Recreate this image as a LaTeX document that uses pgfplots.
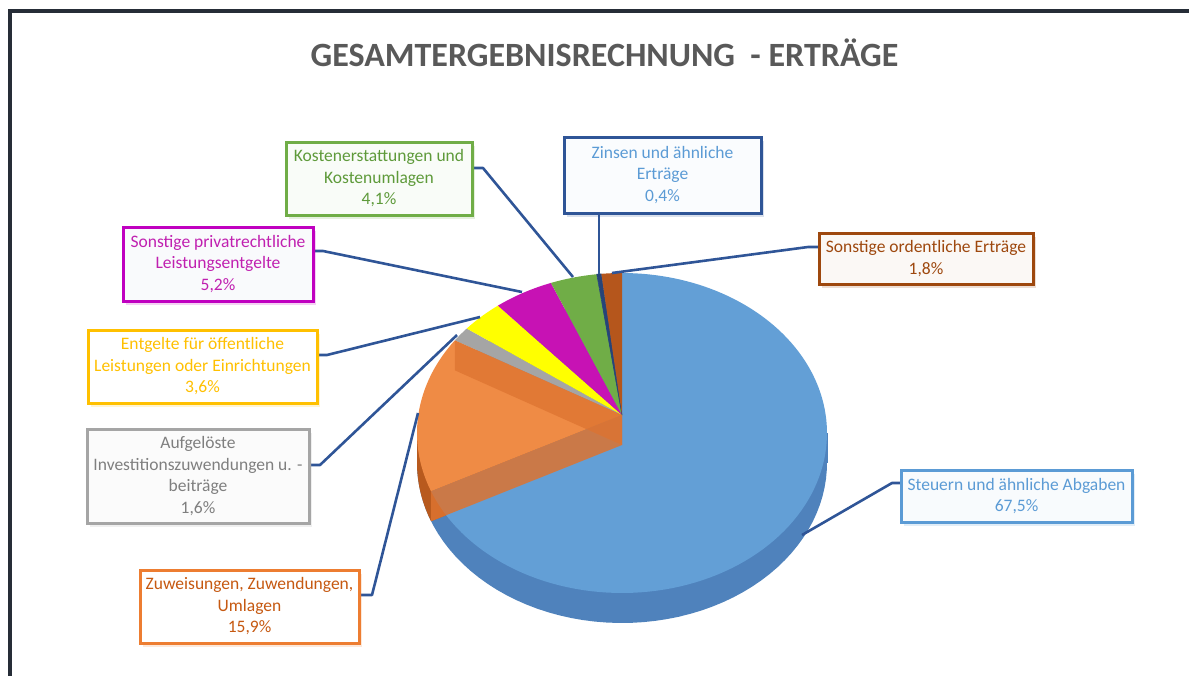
\documentclass[border=0pt]{standalone}
\usepackage{fontspec}
\setmainfont{Carlito}
\usepackage{pgfplots}
\pgfplotsset{compat=1.18}
\usetikzlibrary{shadows}
\definecolor{cblue}{HTML}{639FD6}
\definecolor{cblueside}{HTML}{4F82BC}
\definecolor{corange}{HTML}{EF8B45}
\definecolor{corangewall}{HTML}{DD7330}
\definecolor{corangeside}{HTML}{B85A1E}
\definecolor{cgray}{HTML}{A5A5A5}
\definecolor{cyellow}{HTML}{FFFF00}
\definecolor{cmagenta}{HTML}{C712B4}
\definecolor{cgreen}{HTML}{70AD47}
\definecolor{cdblue}{HTML}{264478}
\definecolor{cbrown}{HTML}{B5561C}
\definecolor{cline}{HTML}{2F5597}
\definecolor{cframe}{HTML}{262D37}
\definecolor{ctitle}{HTML}{595959}
% label colours
\definecolor{bgreen}{HTML}{70AD47}\definecolor{tgreen}{HTML}{5E9A3A}
\definecolor{bzins}{HTML}{2F5597}\definecolor{tzins}{HTML}{5B9BD5}
\definecolor{bbrown}{HTML}{9E480E}\definecolor{tbrown}{HTML}{9E480E}
\definecolor{bmag}{HTML}{C000C0}\definecolor{tmag}{HTML}{C020B0}
\definecolor{bgold}{HTML}{FFC000}\definecolor{tgold}{HTML}{FFC000}
\definecolor{bgrey}{HTML}{A5A5A5}\definecolor{tgrey}{HTML}{7F7F7F}
\definecolor{borange}{HTML}{ED7D31}\definecolor{torange}{HTML}{C65911}
\definecolor{bsteuer}{HTML}{5B9BD5}\definecolor{tsteuer}{HTML}{5B9BD5}
\begin{document}
\begin{tikzpicture}[
  declare function={
    px(\t)=622+205*cos(\t)*0.99365/(1+0.1125*sin(\t));
    py(\t)=433-160*(sin(\t)+0.1125)/(1+0.1125*sin(\t));
  },
  lbox/.style 2 args={draw=#1, text=#2, line width=3pt, fill=white!96!#1,
    align=center, inner sep=2pt,
    font=\fontsize{17.5}{21.5}\selectfont,
    drop shadow={shadow xshift=3pt, shadow yshift=-4pt, opacity=0.18, fill=#1}},
  conn/.style={draw=cline, line width=2.6pt, line join=round}
]
% data (percent)
\def\pSteuern{67.5}\def\pZuw{15.9}\def\pAufg{1.6}\def\pEntg{3.6}
\def\pPriv{5.2}\def\pKost{4.1}\def\pZins{0.4}\def\pOrd{1.8}
\pgfmathsetmacro\tot{\pSteuern+\pZuw+\pAufg+\pEntg+\pPriv+\pKost+\pZins+\pOrd}
\pgfmathsetmacro\k{360/\tot}
\pgfmathsetmacro\aA{90}
\pgfmathsetmacro\aB{\aA-\k*\pSteuern}
\pgfmathsetmacro\aC{\aB-\k*\pZuw}
\pgfmathsetmacro\aD{\aC-\k*\pAufg}
\pgfmathsetmacro\aE{\aD-\k*\pEntg}
\pgfmathsetmacro\aF{\aE-\k*\pPriv}
\pgfmathsetmacro\aG{\aF-\k*\pKost}
\pgfmathsetmacro\aH{\aG-\k*\pZins}
\pgfmathsetmacro\aI{\aH-\k*\pOrd}
\pgfmathsetmacro\pBx{px(\aB)}\pgfmathsetmacro\pBy{py(\aB)}
\pgfmathsetmacro\pCx{px(\aC)}\pgfmathsetmacro\pCy{py(\aC)}
\pgfmathsetmacro\pBya{\pBy+30}\pgfmathsetmacro\pCya{\pCy+30}
\begin{axis}[at={(0,0)}, anchor=south west,
  width=1189pt, height=675pt, scale only axis, hide axis,
  xmin=0, xmax=1189, ymin=0, ymax=675, y dir=reverse, clip=false]
% --- side wall (bottom face shifted) ---
\addplot[draw=none, fill=cblueside, domain=0:360, samples=120, variable=\t]
  ({px(\t)},{py(\t)+30}) -- cycle;
\addplot[draw=none, fill=cblueside] coordinates {(424,433) (827.5,433) (827.5,463) (424,463)} -- cycle;
\addplot[draw=none, fill=corangeside] coordinates {(417,430) (426,430) (426,463) (417,463)} -- cycle;
\addplot[draw=none, fill=corangeside, domain=\aC:\aB, samples=50, variable=\t]
  ({px(\t)},{py(\t)+30}) -- (axis cs:622,445) -- cycle;
% --- top faces ---
\addplot[draw=none, fill=cblue, domain=\aB:\aA, samples=120, variable=\t]
  ({px(\t)},{py(\t)}) -- (axis cs:622,415) -- cycle;
\addplot[draw=none, fill=corange, domain=\aC:\aB, samples=50, variable=\t]
  ({px(\t)},{py(\t)}) -- (axis cs:622,415) -- cycle;
\addplot[draw=none, fill=cgray, domain=\aD:\aC, samples=10, variable=\t]
  ({px(\t)},{py(\t)}) -- (axis cs:622,415) -- cycle;
\addplot[draw=none, fill=cyellow, domain=\aE:\aD, samples=12, variable=\t]
  ({px(\t)},{py(\t)}) -- (axis cs:622,415) -- cycle;
\addplot[draw=none, fill=cmagenta, domain=\aF:\aE, samples=15, variable=\t]
  ({px(\t)},{py(\t)}) -- (axis cs:622,415) -- cycle;
\addplot[draw=none, fill=cgreen, domain=\aG:\aF, samples=12, variable=\t]
  ({px(\t)},{py(\t)}) -- (axis cs:622,415) -- cycle;
\addplot[draw=cdblue, line width=0.6pt, fill=cdblue, domain=\aH:\aG, samples=4, variable=\t]
  ({px(\t)},{py(\t)}) -- (axis cs:622,415) -- cycle;
\addplot[draw=none, fill=cbrown, domain=\aI:\aH, samples=8, variable=\t]
  ({px(\t)},{py(\t)}) -- (axis cs:622,415) -- cycle;
% --- visible radial walls of the orange slice ---
\addplot[draw=none, fill=corangewall, fill opacity=0.75] coordinates
  {(\pCx,\pCy) (622,415) (622,445) (\pCx,\pCya)} -- cycle;
\addplot[draw=none, fill=corangewall, fill opacity=0.85] coordinates
  {(\pBx,\pBy) (622,415) (622,445) (\pBx,\pBya)} -- cycle;
% --- frame ---
\draw[line width=4pt, cframe] (axis cs:9.5,690) -- (axis cs:9.5,11) -- (axis cs:1200,11);
% --- title ---
\node[text=ctitle, font=\fontsize{34}{40}\selectfont\bfseries] at (axis cs:604.5,53)
  {GESAMTERGEBNISRECHNUNG\ \ -\ ERTRÄGE};
% --- connectors ---
\draw[conn] (axis cs:472,168) -- (axis cs:483,168) -- (axis cs:573,277);
\draw[conn] (axis cs:599,213) -- (axis cs:599,274);
\draw[conn] (axis cs:819,247) -- (axis cs:808,247) -- (axis cs:612,273);
\draw[conn] (axis cs:313,251) -- (axis cs:323,251) -- (axis cs:522,292);
\draw[conn] (axis cs:317,355) -- (axis cs:327,355) -- (axis cs:480,317);
\draw[conn] (axis cs:309,465) -- (axis cs:320,465) -- (axis cs:457,335);
\draw[conn] (axis cs:359,595) -- (axis cs:372,595) -- (axis cs:418,413);
\draw[conn] (axis cs:901,483) -- (axis cs:892,483) -- (axis cs:802,535);
% --- labels ---
\node[lbox={bgreen}{tgreen}, minimum width=186pt, minimum height=73pt] at (axis cs:379,178.5)
  {Kostenerstattungen und\\Kostenumlagen\\4,1\%};
\node[lbox={bzins}{tzins}, fill=white!97!tzins, minimum width=197pt, minimum height=76pt] at (axis cs:662.5,175)
  {Zinsen und ähnliche\\Erträge\\0,4\%};
\node[lbox={bbrown}{tbrown}, minimum width=214pt, minimum height=51pt] at (axis cs:926,258.5)
  {Sonstige ordentliche Erträge\\1,8\%};
\node[lbox={bmag}{tmag}, fill=white!97!cline, minimum width=190pt, minimum height=74pt] at (axis cs:218,264)
  {Sonstige privatrechtliche\\Leistungsentgelte\\5,2\%};
\node[lbox={bgold}{tgold}, fill=white, minimum width=229pt, minimum height=73pt] at (axis cs:202.5,366.5)
  {Entgelte für öffentliche\\Leistungen oder Einrichtungen\\3,6\%};
\node[lbox={bgrey}{tgrey}, minimum width=222pt, minimum height=94pt] at (axis cs:198,476)
  {Aufgelöste\\Investitionszuwendungen u. -\\beiträge\\1,6\%};
\node[lbox={borange}{torange}, fill=white, minimum width=219pt, minimum height=73pt] at (axis cs:249.5,606.5)
  {Zuweisungen, Zuwendungen,\\Umlagen\\15,9\%};
\node[lbox={bsteuer}{tsteuer}, minimum width=231pt, minimum height=52pt] at (axis cs:1016.5,496)
  {Steuern und ähnliche Abgaben\\67,5\%};
\end{axis}
\pgfresetboundingbox
\path (0,0) rectangle (1189pt,675pt);
\end{tikzpicture}
\end{document}
